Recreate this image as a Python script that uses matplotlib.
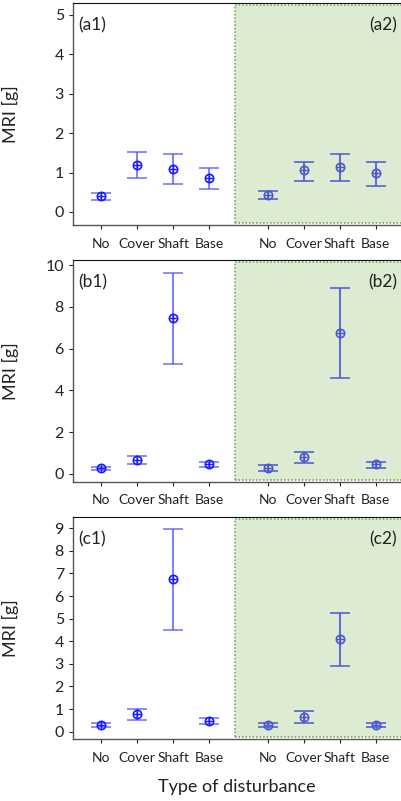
import matplotlib
matplotlib.use("Agg")
import matplotlib.pyplot as plt
import matplotlib.transforms as mtransforms
import numpy as np

plt.rcParams['font.family'] = ['Lato', 'DejaVu Sans']

categories = ["No", "Cover", "Shaft", "Base"]
positions_1 = [0, 1, 2, 3]
positions_2 = [4.63, 5.63, 6.63, 7.63]

# panel a
a1_mean = [0.41, 1.20, 1.10, 0.86]
a1_low = [0.30, 0.85, 0.72, 0.59]
a1_high = [0.48, 1.53, 1.47, 1.11]
a2_mean = [0.43, 1.07, 1.14, 0.99]
a2_low = [0.32, 0.79, 0.78, 0.67]
a2_high = [0.54, 1.28, 1.46, 1.28]
# panel b
b1_mean = [0.27, 0.67, 7.48, 0.46]
b1_low = [0.19, 0.48, 5.26, 0.32]
b1_high = [0.35, 0.88, 9.63, 0.57]
b2_mean = [0.30, 0.80, 6.73, 0.46]
b2_low = [0.16, 0.51, 4.58, 0.29]
b2_high = [0.41, 1.04, 8.88, 0.57]
# panel c
c1_mean = [0.30, 0.78, 6.76, 0.49]
c1_low = [0.19, 0.53, 4.50, 0.35]
c1_high = [0.37, 1.00, 8.97, 0.59]
c2_mean = [0.30, 0.66, 4.09, 0.30]
c2_low = [0.19, 0.37, 2.89, 0.20]
c2_high = [0.37, 0.90, 5.24, 0.37]

panels = [
    dict(l1="(a1)", l2="(a2)", d1=(a1_mean, a1_low, a1_high), d2=(a2_mean, a2_low, a2_high),
         ylim=(-0.33, 5.3), yticks=[0, 1, 2, 3, 4, 5], box=(1 - 225 / 801, 1 - 3 / 801)),
    dict(l1="(b1)", l2="(b2)", d1=(b1_mean, b1_low, b1_high), d2=(b2_mean, b2_low, b2_high),
         ylim=(-0.37, 10.24), yticks=[0, 2, 4, 6, 8, 10], box=(1 - 481.7 / 801, 1 - 260 / 801)),
    dict(l1="(c1)", l2="(c2)", d1=(c1_mean, c1_low, c1_high), d2=(c2_mean, c2_low, c2_high),
         ylim=(-0.34, 9.51), yticks=list(range(10)), box=(1 - 739.3 / 801, 1 - 516.7 / 801)),
]

fig = plt.figure(figsize=(4.01, 8.01), dpi=100)
left = 73 / 401


def draw_series(ax, xs, data, mcolor, bar_rgba, cap_color, z):
    mean, low, high = data
    mean = np.array(mean); low = np.array(low); high = np.array(high)
    yerr = [mean - low, high - mean]
    _, caps, bars = ax.errorbar(xs, mean, yerr=yerr, fmt='none', ecolor=bar_rgba,
                                elinewidth=1.5, capsize=7, capthick=1.3, zorder=z)
    for c in caps:
        c.set_color(cap_color)
    ax.plot(xs, mean, 'o', ms=6, mfc='none', mec=mcolor, mew=1.2, zorder=z + 1)
    ax.plot(xs, mean, '+', ms=6, color=mcolor, mew=1.0, zorder=z + 1)


for p in panels:
    b, t = p['box']
    ax = fig.add_axes([left, b, 1.0 - left + 0.002, t - b])
    ax.set_xlim(-0.78, 8.35)
    ax.set_ylim(*p['ylim'])
    trans = mtransforms.blended_transform_factory(ax.transData, ax.transAxes)
    rect = plt.Rectangle((3.72, 0.009), 5.0, 0.982, transform=trans, facecolor='#dcebd2',
                         edgecolor='#6a9a48', linestyle=(0, (1, 1.3)), linewidth=1.1, zorder=0)
    ax.add_patch(rect)
    draw_series(ax, positions_1, p['d1'], '#1a1aff', (0.35, 0.35, 1.0, 0.75), '#2a2aff', 3)
    draw_series(ax, positions_2, p['d2'], '#4a58d0', (0.29, 0.35, 0.82, 0.85), '#4a58d0', 3)
    ax.set_xticks(positions_1 + positions_2)
    ax.set_xticklabels(categories + categories)
    ax.set_yticks(p['yticks'])
    ax.tick_params(axis='both', colors='#222222', length=3, width=0.8)
    ax.tick_params(axis='x', labelsize=10, pad=6)
    ax.tick_params(axis='y', labelsize=11.5)
    for s in ['left', 'bottom']:
        ax.spines[s].set_color('#555555')
        ax.spines[s].set_linewidth(1.0)
    ax.spines['top'].set_color('#111111')
    ax.spines['right'].set_visible(False)
    ax.set_ylabel("MRI [g]", fontsize=13, color='#222222')
    ax.yaxis.set_label_coords(-0.165, 0.5)
    ax.text(0.015, 0.90, p['l1'], transform=ax.transAxes, fontsize=12.5, ha='left', va='center', color='#222222')
    ax.text(0.985, 0.90, p['l2'], transform=ax.transAxes, fontsize=12.5, ha='right', va='center', color='#222222')

fig.text(237 / 401, 1 - 787 / 801, "Type of disturbance", fontsize=13, ha='center', va='center', color='#222222')

fig.savefig("out.png", dpi=100)
